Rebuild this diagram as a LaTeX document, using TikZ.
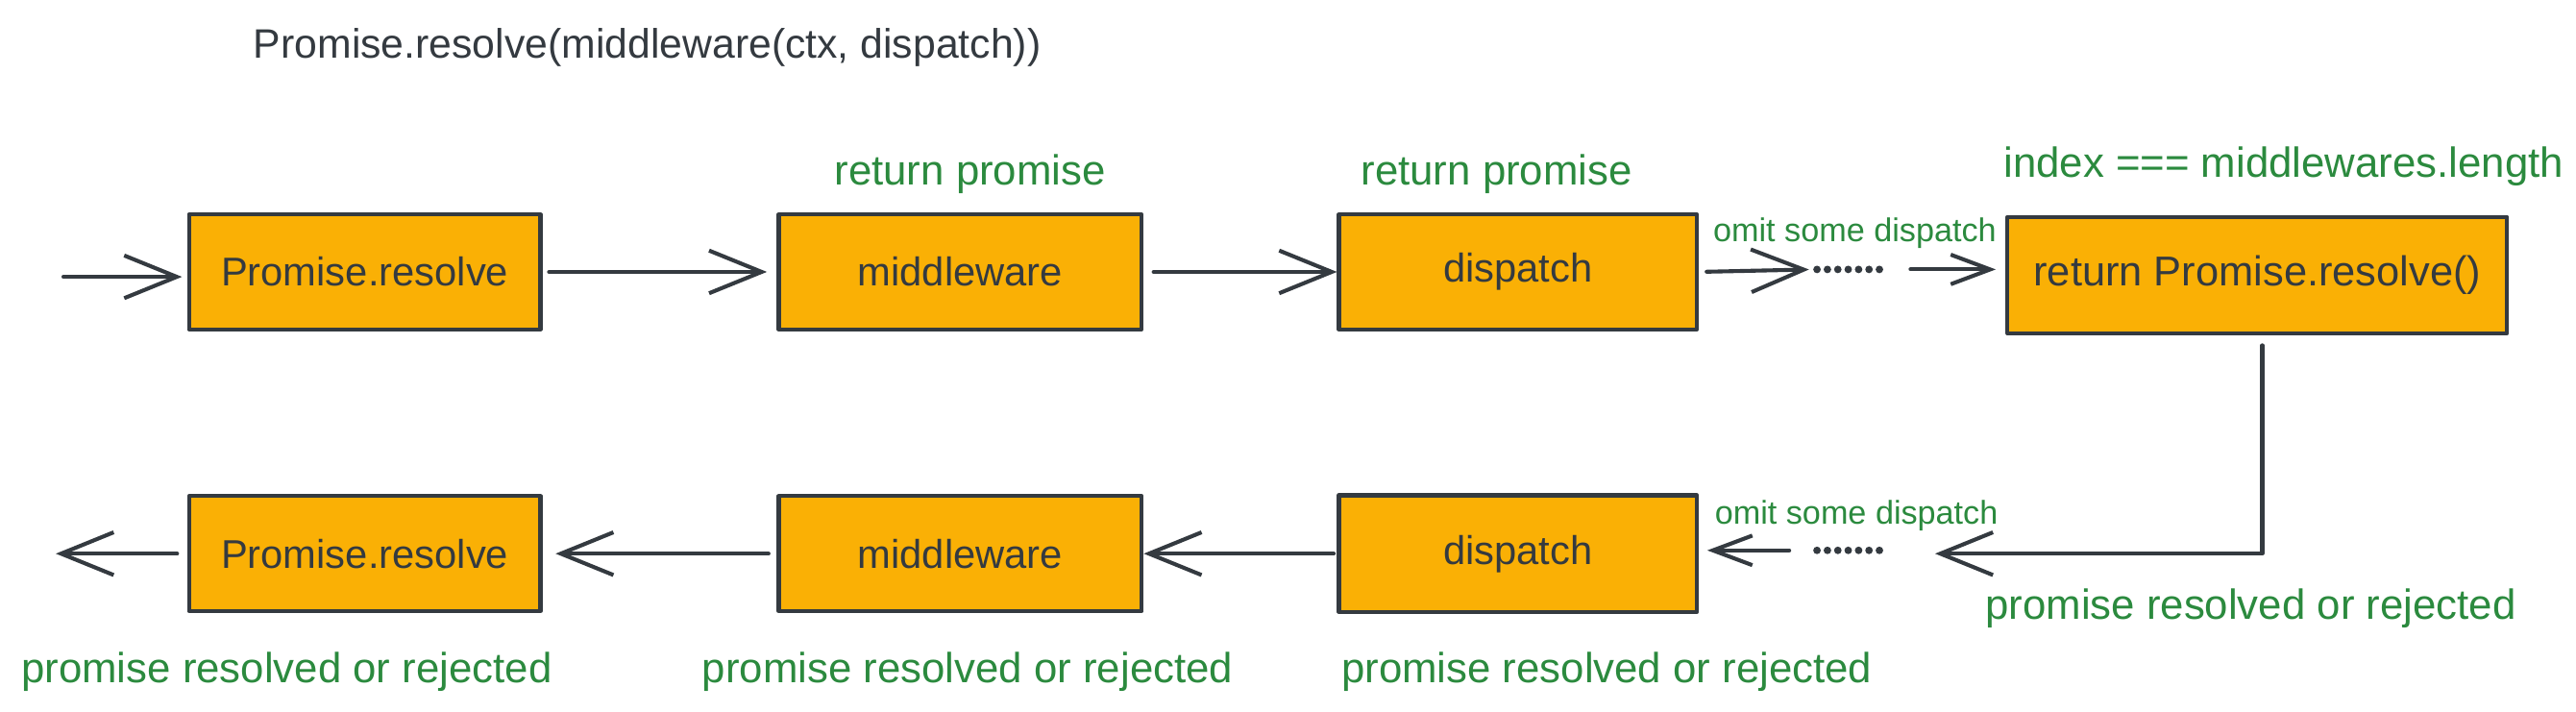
\documentclass[tikz,border=0pt]{standalone}
\usepackage{fontspec}
\setmainfont{Liberation Sans}
\usetikzlibrary{arrows.meta}
\definecolor{ink}{HTML}{343A40}
\definecolor{boxfill}{HTML}{FAB005}
\definecolor{lblgreen}{HTML}{2B8A3E}
\begin{document}
\begin{tikzpicture}[x=0.5pt,y=-0.5pt,
  box/.style={draw=ink, fill=boxfill, line width=1.2pt, inner sep=0pt, text=ink,
    font=\fontsize{12.2}{14}\selectfont, line join=round},
  lbl/.style={text=lblgreen, inner sep=0pt, font=\fontsize{12.8}{15}\selectfont},
  smalllbl/.style={text=lblgreen, inner sep=0pt, font=\fontsize{10}{12}\selectfont},
  titletext/.style={text=ink, inner sep=0pt, font=\fontsize{12.5}{15}\selectfont},
  arr/.style={draw=ink, line width=1.2pt, line cap=round, line join=round,
    -{Straight Barb[length=16pt,width=13pt]}},
  arrs/.style={draw=ink, line width=1.2pt, line cap=round, line join=round,
    -{Straight Barb[length=12pt,width=9pt]}},
  dotrow/.style={minimum width=21.5pt, minimum height=2pt, inner sep=0pt}
]
\useasboundingbox (0,0) rectangle (1568,433);

% title
\node[titletext] (title) at (394,29) {Promise.resolve(middleware(ctx, dispatch))};

% top row
\node[box, minimum width=107pt, minimum height=35pt] (p1) at (222,165.5) {Promise.resolve};
\node[box, minimum width=110.5pt, minimum height=35pt] (m1) at (584.5,165.5) {middleware};
\node[box, minimum width=109pt, minimum height=35pt] (d1) at (924,165.5) {dispatch};
\node[box, minimum width=152pt, minimum height=35.5pt, font=\fontsize{12.7}{15}\selectfont] (r1) at (1374,167.5) {return Promise.resolve()};

% bottom row
\node[box, minimum width=107pt, minimum height=35pt] (p2) at (222,337) {Promise.resolve};
\node[box, minimum width=110.5pt, minimum height=35pt] (m2) at (584.5,337) {middleware};
\node[box, minimum width=109pt, minimum height=35.5pt] (d2) at (924,337) {dispatch};

% labels
\node[lbl] (lm1) at (590.5,106) {return promise};
\node[lbl] (ld1) at (911,106) {return promise};
\node[lbl] (lr1) at (1390,101) {index === middlewares.length};
\node[smalllbl] (lo1) at (1129,142) {omit some dispatch};
\node[smalllbl] (lo2) at (1130,314) {omit some dispatch};
\node[lbl] (lc) at (1370,370.5) {promise resolved or rejected};
\node[lbl] (ld2) at (978,409) {promise resolved or rejected};
\node[lbl] (lm2) at (589,409) {promise resolved or rejected};
\node[lbl] (lp2) at (174.5,409) {promise resolved or rejected};

% dot rows
\node[dotrow] (dt) at (1125,164) {};
\node[dotrow] (db) at (1125,335) {};
\foreach \i in {0,...,6} {
  \fill[ink] (1106+6.33*\i,164) circle[radius=1.15pt];
  \fill[ink] (1106+6.33*\i,335) circle[radius=1.15pt];
}

% top connectors
\coordinate (inS) at (38.6,168.5);
\draw[arr, shorten >=1.5pt] (inS) -- (inS -| p1.west);
\draw[arr, shorten <=2pt, shorten >=3pt] (p1.east) -- (m1.west);
\draw[arr, shorten <=3pt] (m1.east) -- (d1.west);
\draw[arr, shorten <=2.3pt, shorten >=1pt] (d1.east) -- (dt.west);
\draw[arrs, shorten <=8pt, shorten >=3pt] (dt.east) -- (dt.east -| r1.west);

% bottom connectors
\coordinate (corner) at (1377,337);
\draw[arr, shorten >=15.5pt] ([yshift=-3pt]r1.south -| corner) -- (corner) -- (corner -| db.east);
\draw[arrs, shorten <=7pt, shorten >=2.5pt] (db.west) -- (db.west -| d2.east);
\draw[arr, shorten <=1pt] (d2.west) -- (m2.east);
\draw[arr, shorten <=2.5pt, shorten >=4pt] (m2.west) -- (p2.east);
\coordinate (outE) at (34,337);
\draw[arr, shorten <=3pt] (p2.west) -- (outE);
\end{tikzpicture}
\end{document}
